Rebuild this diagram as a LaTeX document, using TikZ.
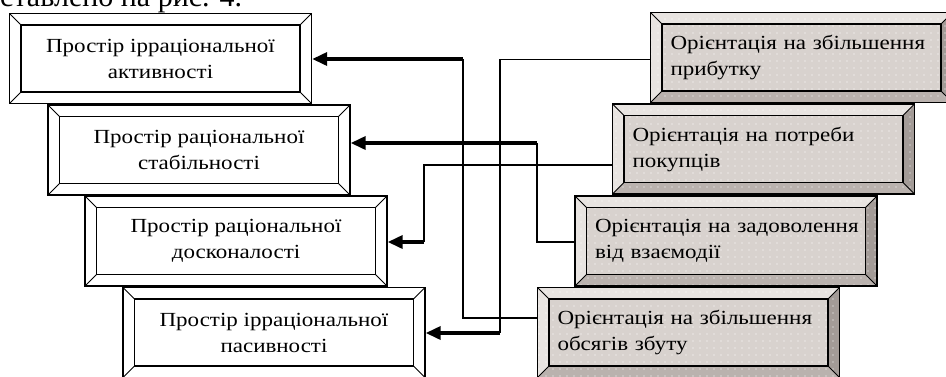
\documentclass[tikz,border=0pt]{standalone}
\usepackage{fontspec}
\setmainfont{Liberation Serif}
\newfontfamily\boxfont[FakeStretch=1.15]{Liberation Serif}
\usetikzlibrary{arrows.meta,patterns.meta,calc}

\definecolor{rinner}{HTML}{D8D2CE}
\definecolor{rlight}{HTML}{E8E4E1}
\definecolor{rbottom}{HTML}{BAB2AE}
\definecolor{rright}{HTML}{A39B97}

\tikzset{
  boxbase/.style={minimum width=302pt, minimum height=90pt, inner sep=0pt,
    draw=black, line width=1.4pt, font=\boxfont\fontsize{20}{26}\selectfont},
  lbox/.style={boxbase, fill=white, align=center, path picture={
    \coordinate (nw) at (path picture bounding box.north west);
    \coordinate (ne) at (path picture bounding box.north east);
    \coordinate (sw) at (path picture bounding box.south west);
    \coordinate (se) at (path picture bounding box.south east);
    \coordinate (inw) at ($(nw)+(11.5pt,-11.5pt)$);
    \coordinate (ine) at ($(ne)+(-11.5pt,-11.5pt)$);
    \coordinate (isw) at ($(sw)+(11.5pt,11.5pt)$);
    \coordinate (ise) at ($(se)+(-11.5pt,11.5pt)$);
    \draw[line width=0.8pt] (nw)--(inw) (ne)--(ine) (sw)--(isw) (se)--(ise);
    \draw[line width=1.4pt] (inw) rectangle (ise);
  }},
  rbox/.style={boxbase, align=left, text width=262pt, path picture={
    \coordinate (nw) at (path picture bounding box.north west);
    \coordinate (ne) at (path picture bounding box.north east);
    \coordinate (sw) at (path picture bounding box.south west);
    \coordinate (se) at (path picture bounding box.south east);
    \coordinate (inw) at ($(nw)+(11.5pt,-11.5pt)$);
    \coordinate (ine) at ($(ne)+(-11.5pt,-11.5pt)$);
    \coordinate (isw) at ($(sw)+(11.5pt,11.5pt)$);
    \coordinate (ise) at ($(se)+(-11.5pt,11.5pt)$);
    \fill[rinner] (nw) rectangle (se);
    \fill[rlight] (nw)--(ne)--(ine)--(inw)--cycle;
    \fill[rlight] (nw)--(inw)--(isw)--(sw)--cycle;
    \fill[rright] (ne)--(se)--(ise)--(ine)--cycle;
    \fill[rbottom] (sw)--(isw)--(ise)--(se)--cycle;
    \fill[pattern={Dots[distance=7pt,radius=0.6pt]}, pattern color=white] (nw) rectangle (se);
    \draw[line width=0.8pt] (nw)--(inw) (ne)--(ine) (sw)--(isw) (se)--(ise);
    \draw[line width=1.4pt] (inw) rectangle (ise);
  }},
  thinln/.style={line width=1.3pt},
  thickln/.style={line width=3.5pt, -{Triangle[length=15pt,width=13pt]}},
}

\begin{document}
\begin{tikzpicture}[x=1pt,y=-1pt]
\clip (0,0) rectangle (946,376);
\fill[white] (0,0) rectangle (946,376);

\node[anchor=base west, inner sep=0pt, font=\fontsize{30}{30}\selectfont] (cap) at (0,6) {ставлено на рис. 4.};

\node[lbox] (L1) at (160.5,58.5) {Простір ірраціональної\\активності};
\node[lbox] (L2) at (199,150) {Простір раціональної\\стабільності};
\node[lbox] (L3) at (236,241) {Простір раціональної\\досконалості};
\node[lbox] (L4) at (274,332.5) {Простір ірраціональної\\пасивності};

\node[rbox] (R1) at (801.5,57.5) {\mbox{Орієнтація на збільшення}\\прибутку};
\node[rbox] (R2) at (763.5,149) {\mbox{Орієнтація на потреби}\\покупців};
\node[rbox] (R3) at (726,241) {\mbox{Орієнтація на задоволення}\\від взаємодії};
\node[rbox] (R4) at (688.5,332.5) {\mbox{Орієнтація на збільшення}\\обсягів збуту};

\coordinate (j1) at (463,59);
\coordinate (j2) at (500,333);
\coordinate (j3) at (537,143);
\coordinate (j4) at (424,242);

\draw[thinln] ([yshift=14.5pt]R4.west) -| (j1);
\draw[thickln] (j1) -- (j1 -| L1.east);
\draw[thinln] ([yshift=-2pt]R1.west) -| (j2);
\draw[thickln] (j2) -- (j2 -| L4.east);
\draw[thinln] ([yshift=-1pt]R3.west) -| (j3);
\draw[thickln] (j3) -- (j3 -| L2.east);
\draw[thinln] ([yshift=-16pt]R2.west) -| (j4);
\draw[thickln] (j4) -- (j4 -| L3.east);
\end{tikzpicture}
\end{document}
